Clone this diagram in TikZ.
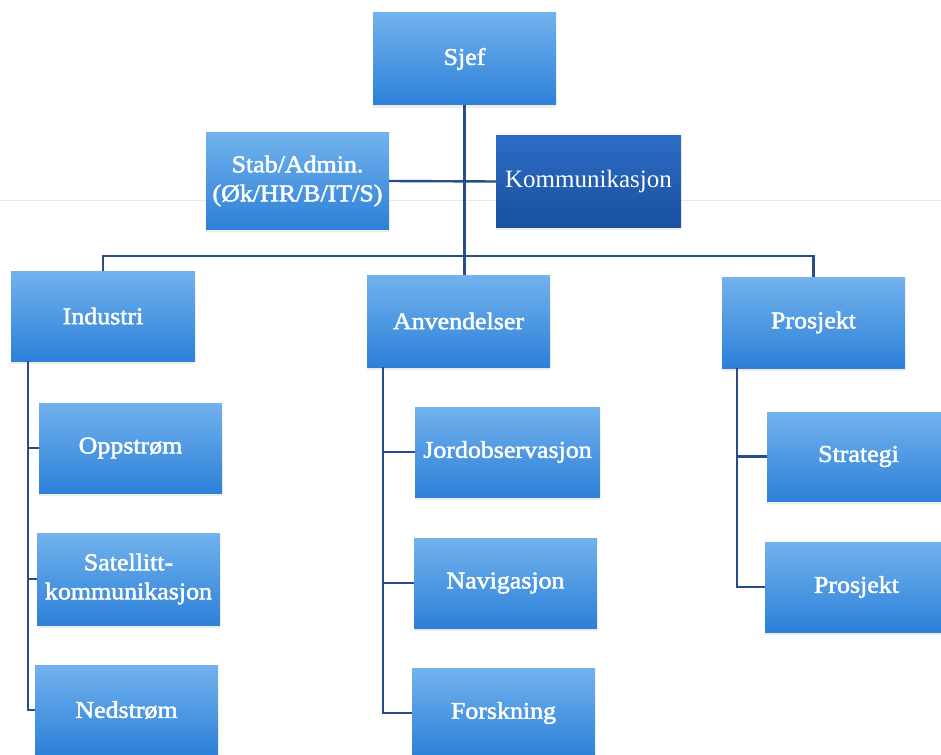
\documentclass[tikz,border=0pt]{standalone}
\usepackage{fontspec}
\setmainfont{Liberation Serif}
\newfontfamily\boxfont[FakeStretch=1.08, FakeBold=2]{Liberation Serif}
\usetikzlibrary{shadows}
\definecolor{boxtop}{RGB}{114,178,237}
\definecolor{boxbot}{RGB}{44,128,216}
\definecolor{darktop}{RGB}{44,108,196}
\definecolor{darkbot}{RGB}{26,80,160}
\definecolor{linecol}{RGB}{40,76,140}
\tikzset{
  box/.style={rectangle, inner sep=0pt, align=center, text=white,
    top color=boxtop, bottom color=boxbot, draw=none,
    minimum width=183pt, minimum height=90pt,
    font=\boxfont\fontsize{24}{29}\selectfont,
    drop shadow={opacity=0.15, shadow xshift=0pt, shadow yshift=-3pt}},
  darkbox/.style={box, top color=darktop, bottom color=darkbot,
    font=\rmfamily\fontsize{25}{30}\selectfont},
  conn/.style={draw=linecol, line width=2.4pt},
}
\begin{document}
\begin{tikzpicture}[x=1pt,y=-1pt]
\fill[white] (0,0) rectangle (941,754);
\useasboundingbox (0,0) rectangle (941,754);
\clip (0,0) rectangle (941,754);
\draw[gray!18, line width=1pt] (0,200) -- (941,200);

% top level
\node[box, minimum height=92pt] (sjef) at (464.5,59) {Sjef};
\node[box, minimum height=96pt] (stab) at (297.5,181) {Stab/Admin.\\(Øk/HR/B/IT/S)};
\node[darkbox, minimum width=185pt, minimum height=91pt] (komm) at (588.5,181.5) {Kommunikasjon};

% second level
\node[box, minimum width=184pt] (industri) at (103,316) {Industri};
\node[box, minimum height=92pt] (anvend) at (458.5,321) {Anvendelser};
\node[box, minimum height=91pt] (prosjekt) at (813.5,322.5) {Prosjekt};

% children
\node[box] (opp) at (130.5,448) {Oppstrøm};
\node[box, minimum height=92pt] (sat) at (128.5,579) {Satellitt-\\kommunikasjon};
\node[box] (ned) at (126.5,710) {Nedstrøm};

\node[box, minimum width=185pt] (jord) at (507.5,452) {Jordobservasjon};
\node[box] (nav) at (505.5,583) {Navigasjon};
\node[box] (forsk) at (503.5,713) {Forskning};

\node[box, minimum height=89pt] (strat) at (858.5,456.5) {Strategi};
\node[box] (pros2) at (856.5,587) {Prosjekt};

% connectors
\coordinate (bus) at (0,256);
\draw[conn] (sjef.south) -- (sjef.south |- anvend.north);
\draw[conn] (stab.east) -- (komm.west);
\draw[conn] (industri.north) -- (industri.north |- bus) -- (prosjekt.north |- bus) -- (prosjekt.north);

\coordinate (itr) at (28,361);
\coordinate (atr) at (383,367);
\coordinate (ptr) at (737,368);
\draw[conn] (itr) |- (opp.west);
\draw[conn] (itr) |- (sat.west);
\draw[conn] (itr) |- (ned.west);
\draw[conn] (atr) |- (jord.west);
\draw[conn] (atr) |- (nav.west);
\draw[conn] (atr) |- (forsk.west);
\draw[conn] (ptr) |- (strat.west);
\draw[conn] (ptr) |- (pros2.west);
\end{tikzpicture}
\end{document}
